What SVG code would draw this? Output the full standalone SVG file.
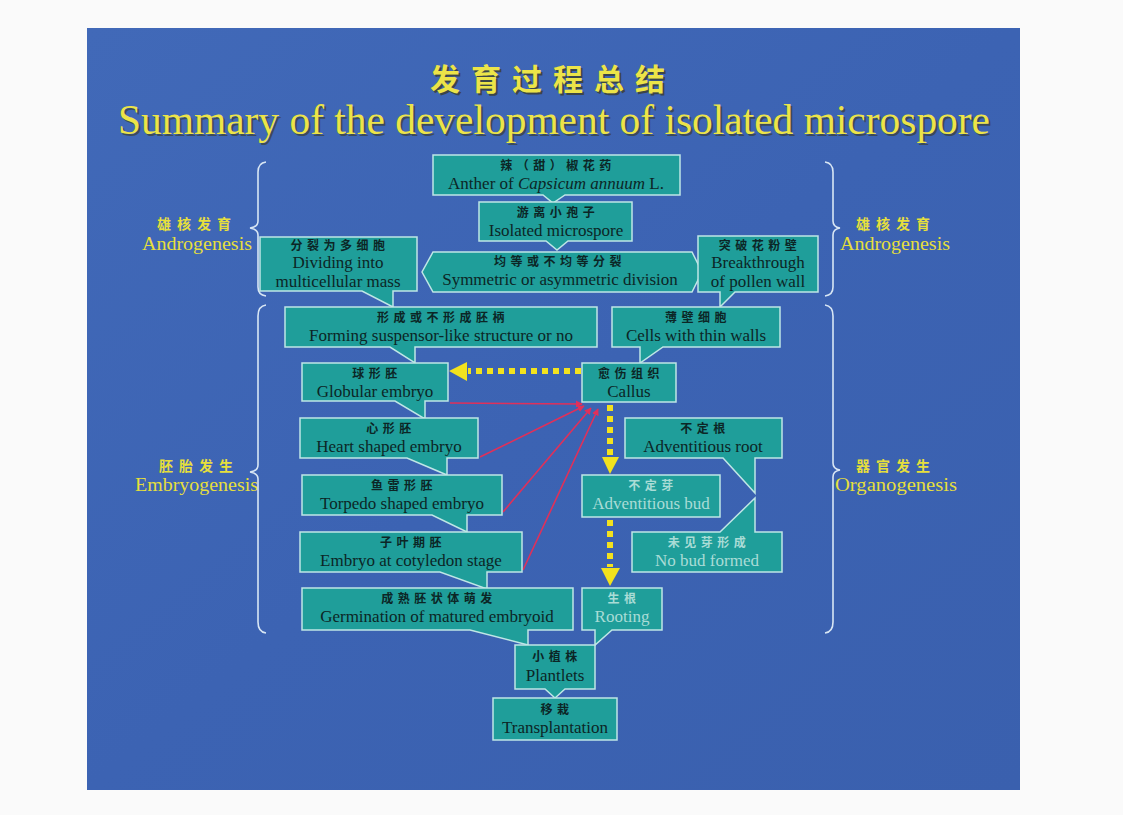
<svg xmlns="http://www.w3.org/2000/svg" width="1123" height="815" viewBox="0 0 1123 815">
<defs>
<style>
.box{fill:#1f9e9a;stroke:#bfe6e6;stroke-width:1.5}
.cn{font-family:"Noto Sans CJK SC","Noto Sans CJK TC",sans-serif;font-size:12px;font-weight:700;letter-spacing:4.5px;fill:#0c2626;text-anchor:middle}
.en{font-family:"Liberation Serif","Times New Roman",serif;font-size:17px;fill:#0c2626;text-anchor:middle}
.lt{fill:#a9dcd6}
.lab-cn{font-family:"Noto Sans CJK SC",sans-serif;font-size:14px;font-weight:700;letter-spacing:6px;fill:#e6df3c;text-anchor:middle}
.lab-en{font-family:"Liberation Serif","Times New Roman",serif;font-size:19px;fill:#e6df3c}
.brace{fill:none;stroke:#d8e6f4;stroke-width:1.6}
.dots{stroke:#f2e21e;stroke-width:6;stroke-dasharray:6 5;fill:none}
.yhead{fill:#f2e21e}
.red{stroke:#e0305a;stroke-width:1.6;fill:none}
</style>
<linearGradient id="bg" x1="0" y1="0" x2="1" y2="1">
<stop offset="0" stop-color="#4169b8"/>
<stop offset="0.5" stop-color="#3c63b3"/>
<stop offset="1" stop-color="#3a60ae"/>
</linearGradient>
<marker id="rh" viewBox="0 0 10 10" refX="9" refY="5" markerWidth="7" markerHeight="7" orient="auto" markerUnits="userSpaceOnUse">
<path d="M0,0 L10,5 L0,10 Z" fill="#e0305a"/>
</marker>
</defs>

<rect x="0" y="0" width="1123" height="815" fill="#fafafa"/>
<rect x="87" y="28" width="933" height="762" fill="url(#bg)"/>

<g id="title">
<text x="553" y="90" font-family="Noto Sans CJK SC,sans-serif" font-size="30" font-weight="700" letter-spacing="11" text-anchor="middle" fill="#3a3000" opacity="0.6" transform="translate(2,2)">发育过程总结</text>
<text x="553" y="90" font-family="Noto Sans CJK SC,sans-serif" font-size="30" font-weight="700" letter-spacing="11" text-anchor="middle" fill="#ece448">发育过程总结</text>
<text x="118" y="134" font-family="Liberation Serif,Times New Roman,serif" font-size="42" textLength="872" lengthAdjust="spacingAndGlyphs" fill="#3a3000" opacity="0.5" transform="translate(2,2)">Summary of the development of isolated microspore</text>
<text x="118" y="134" font-family="Liberation Serif,Times New Roman,serif" font-size="42" textLength="872" lengthAdjust="spacingAndGlyphs" fill="#ece448">Summary of the development of isolated microspore</text>
</g>

<g id="labels">
<text class="lab-cn" x="197" y="229">雄核发育</text>
<text class="lab-en" x="142" y="250" textLength="110" lengthAdjust="spacingAndGlyphs">Androgenesis</text>
<text class="lab-cn" x="896" y="229">雄核发育</text>
<text class="lab-en" x="840" y="250" textLength="110" lengthAdjust="spacingAndGlyphs">Androgenesis</text>
<text class="lab-cn" x="199" y="471">胚胎发生</text>
<text class="lab-en" x="135" y="491" textLength="123" lengthAdjust="spacingAndGlyphs">Embryogenesis</text>
<text class="lab-cn" x="896" y="471">器官发生</text>
<text class="lab-en" x="835" y="491" textLength="122" lengthAdjust="spacingAndGlyphs">Organogenesis</text>
</g>

<g id="braces">
<path class="brace" d="M266,162 Q258,163 258,172 V221 Q258,227 250,228 Q258,229 258,235 V287 Q258,295 266,296"/>
<path class="brace" d="M825,162 Q833,163 833,172 V221 Q833,227 840,228 Q833,229 833,235 V287 Q833,295 825,296"/>
<path class="brace" d="M266,305 Q258,306 258,316 V465 Q258,471 250,472 Q258,473 258,479 V622 Q258,632 266,633"/>
<path class="brace" d="M825,305 Q833,306 833,316 V463 Q833,469 840,470 Q833,471 833,477 V622 Q833,632 825,633"/>
</g>

<g id="connectors">
<line class="dots" x1="581" y1="371" x2="468" y2="371"/>
<polygon class="yhead" points="467,362 467,381 449,371"/>
<line class="dots" x1="610" y1="405" x2="610" y2="456"/>
<polygon class="yhead" points="602,457 619,457 610,474"/>
<line class="dots" x1="610" y1="520" x2="610" y2="567"/>
<polygon class="yhead" points="601,568 620,568 610,586"/>
<line class="red" x1="450" y1="403" x2="582" y2="404" marker-end="url(#rh)"/>
<line class="red" x1="480" y1="457" x2="584" y2="406" marker-end="url(#rh)"/>
<line class="red" x1="503" y1="512" x2="591" y2="408" marker-end="url(#rh)"/>
<line class="red" x1="523" y1="570" x2="598" y2="409" marker-end="url(#rh)"/>
</g>

<g id="n-anther">
<path class="box" d="M433,155 H680 V195 H565 L553,203 L543,195 H433 Z"/>
<text class="cn" x="558" y="170">辣（甜）椒花药</text>
<text class="en" x="556" y="189">Anther of <tspan font-style="italic">Capsicum annuum</tspan> L.</text>
</g>

<g id="n-isolated">
<path class="box" d="M479,202 H632 V241 H568 L557,250 L546,241 H479 Z"/>
<text class="cn" x="558" y="217">游离小孢子</text>
<text class="en" x="556" y="236">Isolated microspore</text>
</g>

<g id="n-dividing">
<path class="box" d="M260,237 H417 V291 H393 V307 L362,291 H260 Z"/>
<text class="cn" x="340" y="250">分裂为多细胞</text>
<text class="en" x="338" y="268">Dividing into</text>
<text class="en" x="338" y="287">multicellular mass</text>
</g>

<g id="n-division">
<path class="box" d="M433,252 H692 L702,272 L692,292 H433 L422,272 Z"/>
<text class="cn" x="560" y="266">均等或不均等分裂</text>
<text class="en" x="560" y="285">Symmetric or asymmetric division</text>
</g>

<g id="n-breakthrough">
<path class="box" d="M698,236 H818 V292 H735 L720,307 V292 H698 Z"/>
<text class="cn" x="760" y="250">突破花粉壁</text>
<text class="en" x="758" y="268">Breakthrough</text>
<text class="en" x="758" y="287">of pollen wall</text>
</g>

<g id="n-suspensor">
<path class="box" d="M285,307 H597 V347 H415 V363 L390,347 H285 Z"/>
<text class="cn" x="443" y="322">形成或不形成胚柄</text>
<text class="en" x="441" y="341">Forming suspensor-like structure or no</text>
</g>

<g id="n-thinwalls">
<path class="box" d="M612,307 H780 V347 H663 L640,363 V347 H612 Z"/>
<text class="cn" x="698" y="322">薄壁细胞</text>
<text class="en" x="696" y="341">Cells with thin walls</text>
</g>

<g id="n-globular">
<path class="box" d="M302,363 H448 V401 H425 V419 L395,401 H302 Z"/>
<text class="cn" x="377" y="378">球形胚</text>
<text class="en" x="375" y="397">Globular embryo</text>
</g>

<g id="n-callus">
<path class="box" d="M582,363 H676 V402 H582 Z"/>
<text class="cn" x="631" y="378">愈伤组织</text>
<text class="en" x="629" y="397">Callus</text>
</g>

<g id="n-heart">
<path class="box" d="M300,418 H478 V458 H447 V475 L407,458 H300 Z"/>
<text class="cn" x="391" y="433">心形胚</text>
<text class="en" x="389" y="452">Heart shaped embryo</text>
</g>

<g id="n-root">
<path class="box" d="M625,418 H782 V458 H755 V493 L723,458 H625 Z"/>
<text class="cn" x="705" y="433">不定根</text>
<text class="en" x="703" y="452">Adventitious root</text>
</g>

<g id="n-torpedo">
<path class="box" d="M302,475 H502 V515 H467 V532 L432,515 H302 Z"/>
<text class="cn" x="404" y="490">鱼雷形胚</text>
<text class="en" x="402" y="509">Torpedo shaped embryo</text>
</g>

<g id="n-bud">
<path class="box" d="M582,475 H720 V517 H582 Z"/>
<text class="cn lt" x="653" y="490">不定芽</text>
<text class="en lt" x="651" y="509">Adventitious bud</text>
</g>

<g id="n-cotyledon">
<path class="box" d="M300,532 H522 V572 H487 V589 L440,572 H300 Z"/>
<text class="cn" x="413" y="547">子叶期胚</text>
<text class="en" x="411" y="566">Embryo at cotyledon stage</text>
</g>

<g id="n-nobud">
<path class="box" d="M632,532 H720 L755,498 V532 H782 V572 H632 Z"/>
<text class="cn lt" x="709" y="547">未见芽形成</text>
<text class="en lt" x="707" y="566">No bud formed</text>
</g>

<g id="n-germination">
<path class="box" d="M302,588 H573 V630 H528 V645 L470,630 H302 Z"/>
<text class="cn" x="439" y="603">成熟胚状体萌发</text>
<text class="en" x="437" y="622">Germination of matured embryoid</text>
</g>

<g id="n-rooting">
<path class="box" d="M582,588 H662 V630 H612 L595,645 V630 H582 Z"/>
<text class="cn lt" x="624" y="603">生根</text>
<text class="en lt" x="622" y="622">Rooting</text>
</g>

<g id="n-plantlets">
<path class="box" d="M515,645 H595 V689 H565 L555,698 L545,689 H515 Z"/>
<text class="cn" x="557" y="661">小植株</text>
<text class="en" x="555" y="681">Plantlets</text>
</g>

<g id="n-transplant">
<path class="box" d="M493,698 H617 V740 H493 Z"/>
<text class="cn" x="557" y="714">移栽</text>
<text class="en" x="555" y="733">Transplantation</text>
</g>
</svg>
